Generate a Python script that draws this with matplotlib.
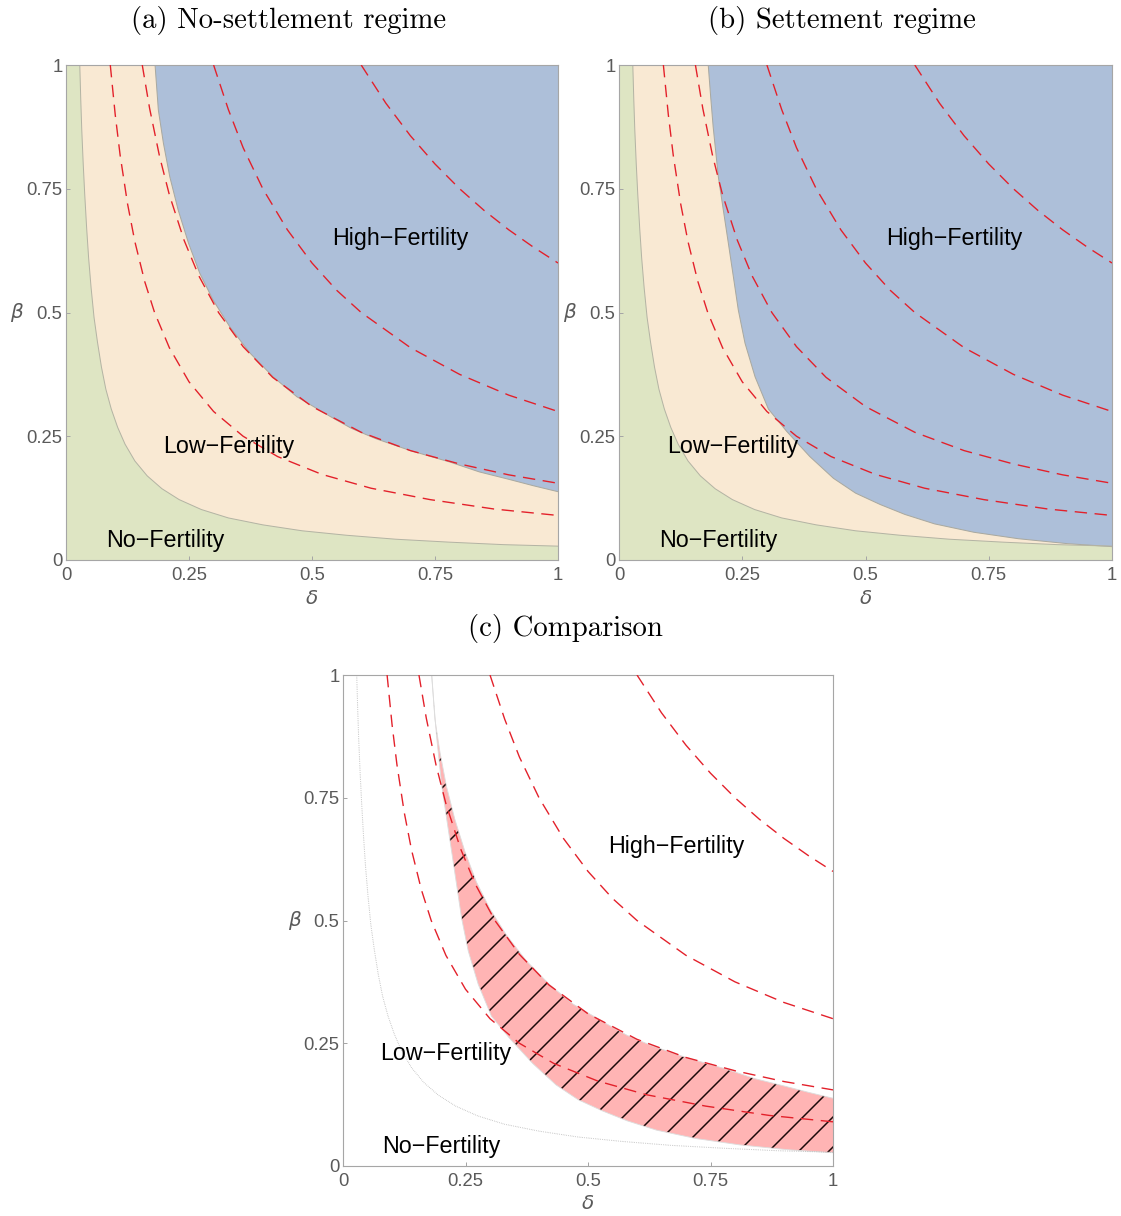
import numpy as np
import matplotlib
matplotlib.use('Agg')
import matplotlib.pyplot as plt

DPI = 180                                   # '//' hatch spacing = DPI/6 px
plt.rcParams['hatch.linewidth'] = 0.6

# axis ticks
ticks = [0, 0.25, 0.5, 0.75, 1]
tick_labels = ['0', '0.25', '0.5', '0.75', '1']

# No-Fertility / Low-Fertility boundary (same in both regimes)
nofert_d = [0.028, 0.030, 0.032, 0.035, 0.038, 0.042, 0.046, 0.051, 0.057, 0.064, 0.072, 0.081,
            0.092, 0.105, 0.12, 0.14, 0.165, 0.195, 0.23, 0.275, 0.33, 0.40, 0.48, 0.57,
            0.67, 0.78, 0.89, 1.0]
nofert_b = [1.0, 0.93, 0.87, 0.80, 0.74, 0.67, 0.61, 0.55, 0.49, 0.44, 0.39, 0.345,
            0.305, 0.268, 0.234, 0.200, 0.170, 0.144, 0.122, 0.102, 0.085, 0.071, 0.059, 0.050,
            0.042, 0.036, 0.031, 0.028]

# Low / High boundary, no-settlement regime
nos_d = [0.181, 0.1877, 0.198, 0.211, 0.228, 0.249, 0.272, 0.299, 0.333, 0.374, 0.421,
         0.469, 0.537, 0.58, 0.63, 0.70, 0.78, 0.84, 0.90, 0.95, 1.0]
nos_b = [1.0, 0.909, 0.842, 0.774, 0.707, 0.640, 0.579, 0.525, 0.471, 0.418, 0.370,
         0.330, 0.290, 0.266, 0.245, 0.221, 0.198, 0.178, 0.163, 0.150, 0.138]

# Low / High boundary, settlement regime
set_d = [0.181, 0.186, 0.191, 0.2015, 0.2116, 0.2218, 0.232, 0.242, 0.2556, 0.276, 0.303,
         0.340, 0.387, 0.435, 0.48, 0.53, 0.58, 0.64, 0.72, 0.81, 0.91, 1.0]
set_b = [1.0, 0.935, 0.875, 0.774, 0.707, 0.640, 0.572, 0.505, 0.438, 0.370, 0.305,
         0.26, 0.209, 0.165, 0.135, 0.112, 0.092, 0.073, 0.056, 0.043, 0.033, 0.027]

# red dashed reference curves
iso1_d = [0.09, 0.10, 0.11, 0.125, 0.14, 0.16, 0.18, 0.21, 0.25, 0.30, 0.36, 0.43, 0.52, 0.62, 0.74, 0.87, 1.0]
iso1_b = [1.0, 0.90, 0.818, 0.72, 0.643, 0.5625, 0.50, 0.429, 0.36, 0.30, 0.25, 0.209, 0.173, 0.145, 0.122, 0.103, 0.09]
iso2_d = [0.155, 0.17, 0.19, 0.21, 0.24, 0.27, 0.31, 0.36, 0.42, 0.50, 0.60, 0.70, 0.80, 0.90, 1.0]
iso2_b = [1.0, 0.912, 0.816, 0.738, 0.646, 0.574, 0.50, 0.431, 0.369, 0.31, 0.258, 0.221, 0.194, 0.172, 0.155]
iso3_d = [0.30, 0.33, 0.36, 0.40, 0.45, 0.50, 0.55, 0.60, 0.70, 0.80, 0.90, 1.0]
iso3_b = [1.0, 0.91, 0.833, 0.75, 0.667, 0.60, 0.545, 0.50, 0.429, 0.375, 0.333, 0.30]
iso4_d = [0.60, 0.65, 0.70, 0.75, 0.80, 0.85, 0.90, 0.95, 1.0]
iso4_b = [1.0, 0.923, 0.857, 0.80, 0.75, 0.706, 0.667, 0.632, 0.60]
isos = [(iso1_d, iso1_b), (iso2_d, iso2_b), (iso3_d, iso3_b), (iso4_d, iso4_b)]

# region labels (text, delta, beta) per panel
labels_a = [('High\u2212Fertility', 0.680, 0.650), ('Low\u2212Fertility', 0.330, 0.230), ('No\u2212Fertility', 0.201, 0.040)]
labels_b = [('High\u2212Fertility', 0.680, 0.650), ('Low\u2212Fertility', 0.231, 0.230), ('No\u2212Fertility', 0.201, 0.040)]
labels_c = [('High\u2212Fertility', 0.680, 0.650), ('Low\u2212Fertility', 0.210, 0.230), ('No\u2212Fertility', 0.201, 0.039)]

BLUE = '#adbfd9'
BEIGE = '#f9e9d3'
GREEN = '#dee5c3'
PINK = '#ffb4b4'
RED = '#e3202a'
GRAY = '#a6a6a6'
SANS = ['Liberation Sans', 'DejaVu Sans']

W, H = 1121, 1216
fig = plt.figure(figsize=(W / DPI, H / DPI), dpi=DPI)


def px_axes(l, t, r, b):
    return fig.add_axes([l / W, 1 - b / H, (r - l) / W, (b - t) / H])


def setup(ax):
    ax.set_xlim(0, 1)
    ax.set_ylim(0, 1)
    ax.set_xticks(ticks)
    ax.set_xticklabels(tick_labels)
    ax.set_yticks(ticks)
    ax.set_yticklabels(tick_labels)
    for s in ax.spines.values():
        s.set_color(GRAY)
        s.set_linewidth(0.45)
    ax.tick_params(direction='in', length=1.6, width=0.4, color=GRAY, labelcolor='#5a5a5a',
                   labelsize=7.4)
    ax.tick_params(axis='x', pad=2.6)
    ax.tick_params(axis='y', pad=1.4)
    for lab in ax.get_xticklabels() + ax.get_yticklabels():
        lab.set_family(SANS)
    ax.set_xlabel('\u03b4', fontsize=8, style='italic', color='#5a5a5a', va='center')
    ax.set_ylabel('\u03b2', fontsize=8, style='italic', color='#5a5a5a', rotation=0,
                  va='center', ha='center')
    ax.xaxis.set_label_coords(0.5, -0.077)
    ax.yaxis.set_label_coords(-0.10, 0.5)


def dashed(ax):
    for d, b in isos:
        ax.plot(d, b, color=RED, lw=0.55, dashes=(9, 5.5), zorder=4)


def region_text(ax, labels):
    for txt, x, y in labels:
        ax.text(x, y, txt, ha='center', va='center', fontsize=9.3, family=SANS, zorder=6)


def regime(ax, bd, bb):
    ax.set_facecolor(BEIGE)
    ax.fill(np.r_[bd, 1], np.r_[bb, 1], color=BLUE, lw=0, zorder=1)
    ax.fill(np.r_[0, nofert_d, 1, 0], np.r_[1, nofert_b, 0, 0], color=GREEN, lw=0, zorder=1)
    ax.plot(bd, bb, color='#a9a9a0', lw=0.4, zorder=2)
    ax.plot(nofert_d, nofert_b, color='#b4b4a4', lw=0.4, zorder=2)
    dashed(ax)
    setup(ax)


axa = px_axes(66, 65, 558, 560)
regime(axa, nos_d, nos_b)
region_text(axa, labels_a)

axb = px_axes(619, 65, 1112, 560)
regime(axb, set_d, set_b)
region_text(axb, labels_b)

axc = px_axes(343, 675, 833, 1166)
axc.fill(np.r_[nos_d, set_d[::-1]], np.r_[nos_b, set_b[::-1]], facecolor=PINK,
         edgecolor='#1a0808', lw=0, hatch='//', zorder=1)
axc.plot(nos_d, nos_b, color='#dddddd', lw=0.35, zorder=2)
axc.plot(set_d, set_b, color='#dddddd', lw=0.35, zorder=2)
axc.plot(nofert_d, nofert_b, color='#b0b0b0', lw=0.4, ls=(0, (0.6, 1.2)), zorder=2)
dashed(axc)
setup(axc)
region_text(axc, labels_c)

title_kw = dict(ha='center', va='baseline', fontsize=11.5, family='cmr10')
fig.text(289 / W, 1 - 28 / H, '(a) No-settlement regime', **title_kw)
fig.text(842 / W, 1 - 28 / H, '(b) Settement regime', **title_kw)
fig.text(565 / W, 1 - 636 / H, '(c) Comparison', **title_kw)

fig.savefig('out.png', dpi=DPI)
